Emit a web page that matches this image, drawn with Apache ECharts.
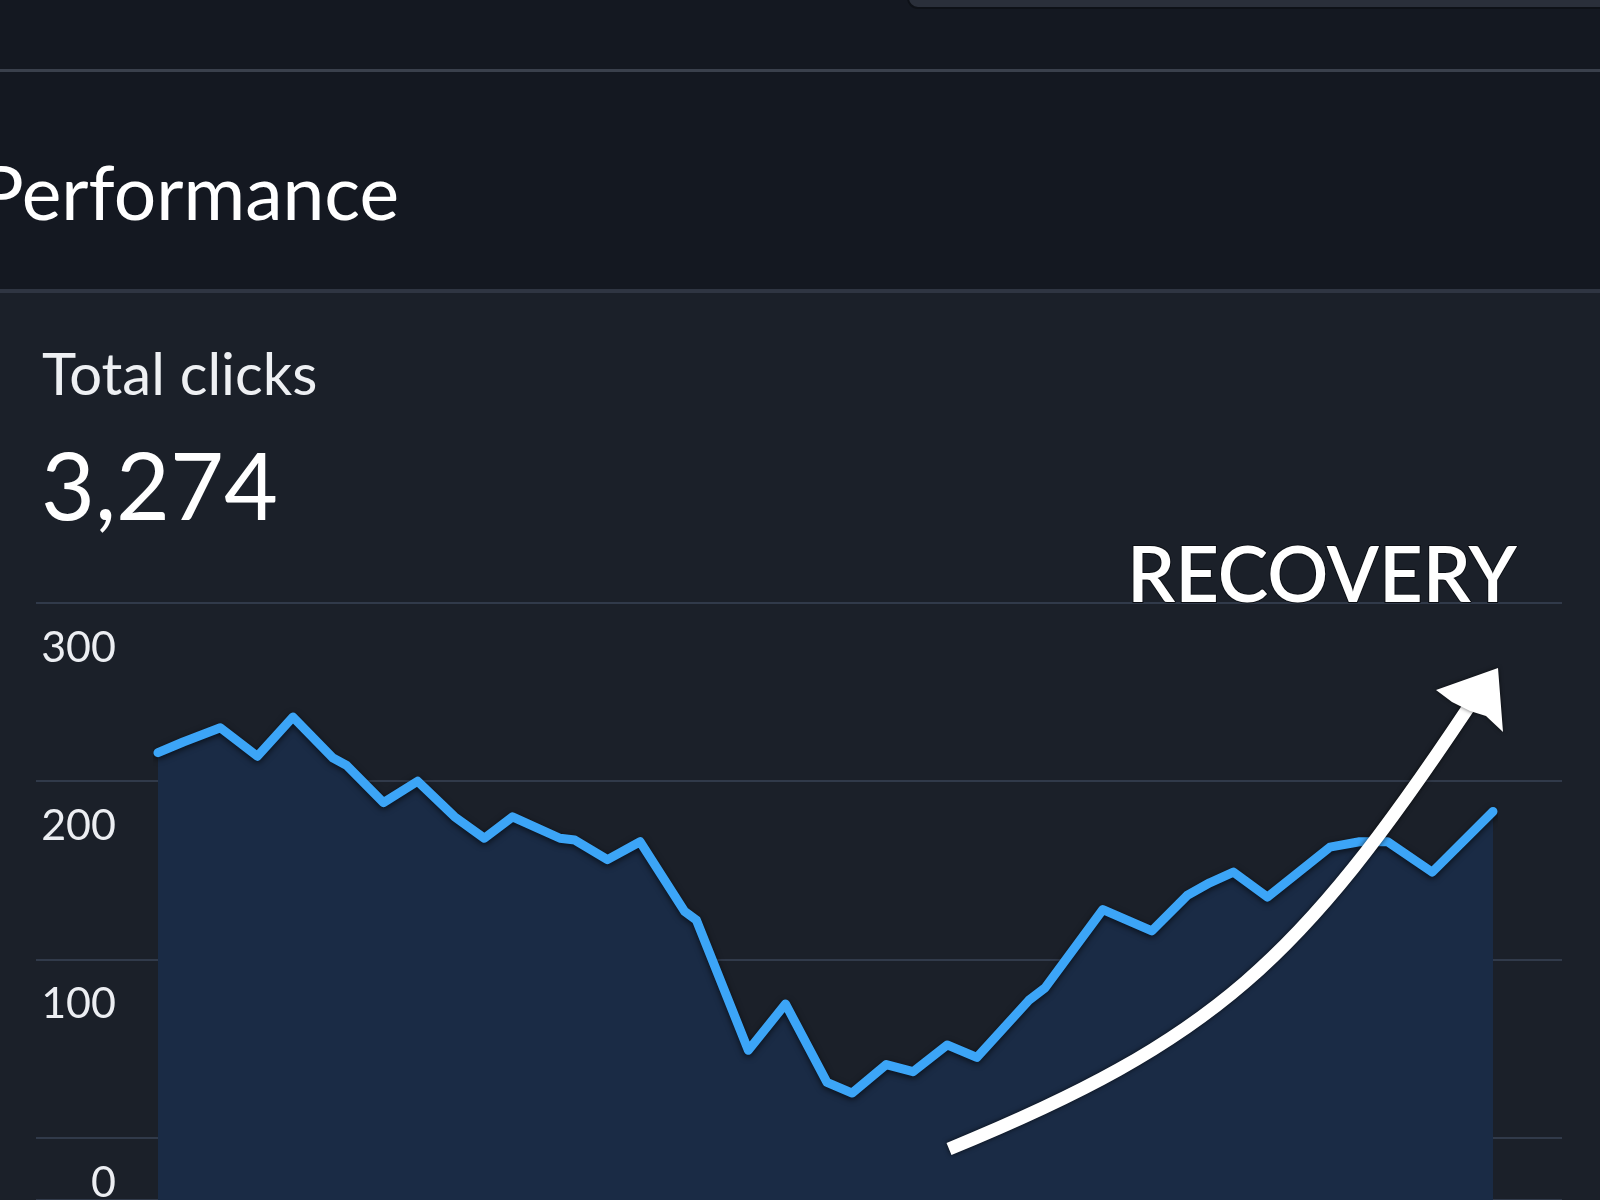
<!DOCTYPE html>
<html>
<head>
<meta charset="utf-8">
<script src="https://cdn.jsdelivr.net/npm/echarts@6/dist/echarts.min.js"></script>
<style>
  html, body { margin: 0; padding: 0; background: #1b2029; }
  #chart { width: 1600px; height: 1200px; }
</style>
</head>
<body>
<div id="chart"></div>
<script>
// ---- data ----
const dayOffsets = [0, 1.7, 4.2, 6.7, 9.1, 11.8, 12.7, 15.2, 17.5, 20.0, 22.0, 23.9, 27.1, 28.1, 30.3, 32.5, 35.5, 36.3, 39.8, 42.3, 45.1, 46.8, 49.1, 50.9, 53.2, 55.2, 58.7, 59.8, 63.7, 67.0, 69.4, 70.9, 72.5, 74.8, 79.0, 81.0, 82.9, 85.9, 90.0];
const clicks = [216, 222, 230, 214, 236, 213, 209, 188, 200, 180, 168, 180, 168, 167, 156, 166, 127, 122, 49, 75, 31, 25, 41, 37, 52, 45, 77, 84, 128, 116, 136, 143, 149, 135, 163, 166, 166, 149, 183];
const yTickLabels = [0, 100, 200, 300];
const pageTitle = 'Performance';
const metricName = 'Total clicks';
const metricTotal = '3,274';
const annotation = 'RECOVERY';

const FONT = 'Lato, "Open Sans", sans-serif';
const chart = echarts.init(document.getElementById('chart'), null, { renderer: 'canvas' });

const option = {
  backgroundColor: '#1b2029',
  animation: false,
  grid: [
    { left: 36, width: 1526, top: 603, height: 597, outerBoundsMode: 'none' },
    { left: 158, width: 1335, top: 603, height: 597, outerBoundsMode: 'none' }
  ],
  xAxis: [
    { gridIndex: 0, type: 'value', min: 0, max: 1, show: false },
    { gridIndex: 1, type: 'value', min: 0, max: 90, show: false }
  ],
  yAxis: [
    {
      gridIndex: 0, type: 'value', min: -35, max: 300, minInterval: 100, maxInterval: 100,
      axisLine: { show: false }, axisTick: { show: false }, axisLabel: { show: false },
      splitLine: { show: true, lineStyle: { color: '#313a4a', width: 2 } }
    },
    {
      gridIndex: 1, type: 'value', min: -35, max: 300, minInterval: 100, maxInterval: 100,
      axisLine: { show: false }, axisTick: { show: false }, splitLine: { show: false },
      axisLabel: {
        show: true, margin: 42, align: 'right', verticalAlign: 'middle',
        formatter: v => (yTickLabels.indexOf(v) >= 0 ? '{gap| }\n{num|' + v + '}' : ''),
        rich: {
          gap: { height: 90, fontSize: 10 },
          num: { height: 48, fontSize: 43, fontFamily: FONT, color: '#eceef2', align: 'right' }
        }
      }
    }
  ],
  series: [
    {
      type: 'line', xAxisIndex: 1, yAxisIndex: 1,
      data: dayOffsets.map((d, i) => [d, clicks[i]]),
      symbol: 'none', smooth: false, z: 3,
      lineStyle: { color: '#3ca5f7', width: 9, join: 'round', cap: 'round',
                   shadowColor: 'rgba(0,0,0,0.65)', shadowBlur: 6, shadowOffsetY: 2 },
      areaStyle: { origin: 'start', color: '#1a2b45', opacity: 1 }
    }
  ],
  graphic: [
    { type: 'rect', z: -10, silent: true, shape: { x: 0, y: 0, width: 1600, height: 291 }, style: { fill: '#141821' } },
    { type: 'rect', z: -9, silent: true, shape: { x: 0, y: 69, width: 1600, height: 3 }, style: { fill: '#3a404c' } },
    { type: 'rect', z: -9, silent: true, shape: { x: 0, y: 289, width: 1600, height: 4 }, style: { fill: '#2f3542' } },
    { type: 'rect', z: -9, silent: true, shape: { x: 908, y: -20, width: 720, height: 28, r: 10 }, style: { fill: '#2a2f3a', stroke: '#0e1117', lineWidth: 2 } },
    { type: 'text', z: 50, silent: true, style: { text: pageTitle, x: 399, y: 196, font: '400 75px ' + FONT, fill: '#ffffff', textAlign: 'right', textVerticalAlign: 'middle' } },
    { type: 'text', z: 50, silent: true, style: { text: metricName, x: 42, y: 376, font: '400 58px ' + FONT, fill: '#eef0f3', textAlign: 'left', textVerticalAlign: 'middle' } },
    { type: 'text', z: 50, silent: true, style: { text: metricTotal, x: 41, y: 490, font: '400 93px ' + FONT, fill: '#ffffff', textAlign: 'left', textVerticalAlign: 'middle' } },
    { type: 'text', z: 50, silent: true, style: { text: annotation, x: 1127, y: 577, font: '600 76px ' + FONT, fill: '#ffffff', textAlign: 'left', textVerticalAlign: 'middle', stroke: '#0d1016', lineWidth: 2 } },
    { type: 'bezierCurve', z: 60, silent: true,
      shape: { x1: 949, y1: 1149, cpx1: 1215, cpy1: 1040, cpx2: 1300, cpy2: 960, x2: 1468, y2: 708 },
      style: { stroke: '#ffffff', lineWidth: 13, fill: null, lineCap: 'butt', shadowColor: 'rgba(0,0,0,0.7)', shadowBlur: 5 } },
    { type: 'polygon', z: 61, silent: true,
      shape: { points: [[1436, 690], [1498, 668], [1503, 732], [1486, 716], [1470, 711], [1452, 702]] },
      style: { fill: '#ffffff', shadowColor: 'rgba(0,0,0,0.6)', shadowBlur: 4 } }
  ]
};
chart.setOption(option);
</script>
</body>
</html>
